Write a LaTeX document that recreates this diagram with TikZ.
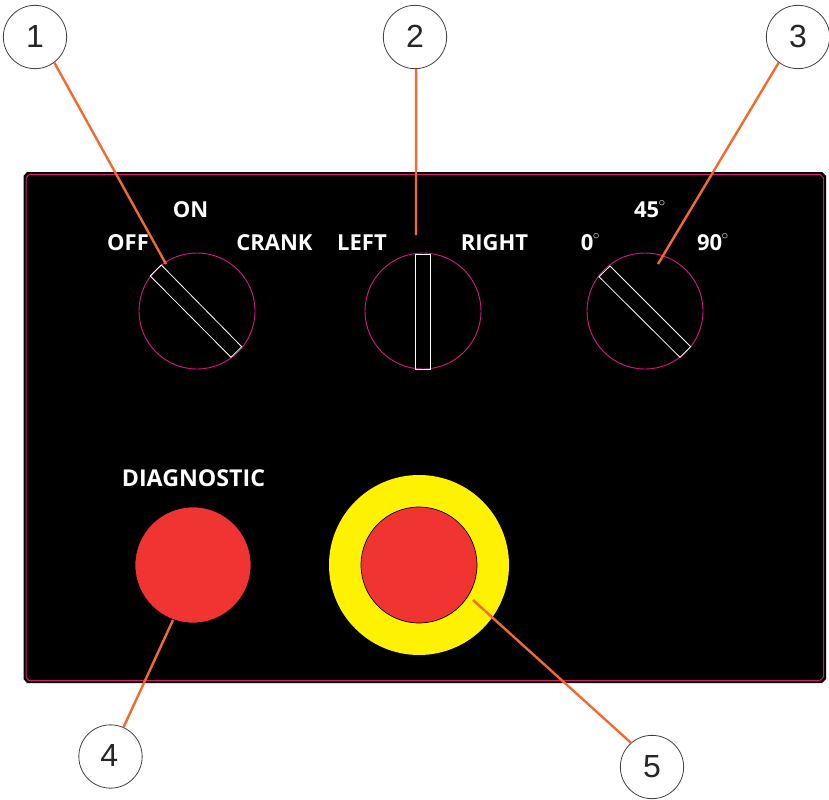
\documentclass[tikz,border=0pt]{standalone}
\usepackage{fontspec}
\setmainfont{Open Sans}
\newfontfamily\calloutfont{Liberation Sans}
\definecolor{leader}{HTML}{F26B2E}
\definecolor{rim}{HTML}{CE1A7C}
\definecolor{edge}{HTML}{D81B72}
\definecolor{stopred}{HTML}{F03432}
\definecolor{stopyellow}{HTML}{FFF200}
\tikzset{
  callout/.style={circle,draw=black!75,line width=0.6pt,fill=white,minimum size=47.5pt,inner sep=0pt,font=\calloutfont\fontsize{24}{24}\selectfont,text=black!85},
  knob/.style={circle,draw=rim,line width=0.7pt,minimum size=87pt,inner sep=0pt},
  redbutton/.style={circle,draw=black,line width=0.5pt,fill=stopred,minimum size=87pt,inner sep=0pt},
  ring/.style={circle,fill=stopyellow,minimum size=135pt,inner sep=0pt},
  slot/.style={draw=white,line width=0.6pt},
  lbl/.style={text=white,font=\fontsize{16.5}{18}\bfseries\selectfont,inner sep=0pt,anchor=center},
  leaderline/.style={draw=leader,line width=1.8pt}
}
\newcommand{\dg}{\raisebox{3pt}[0pt][0pt]{\kern-0.5pt\fontsize{14}{14}\selectfont$^{\circ}$}}
\newcommand{\up}[1]{\raisebox{1.2pt}{#1}}
\begin{document}
\begin{tikzpicture}[x=0.75pt,y=-0.75pt]
\useasboundingbox (0,0) rectangle (829,800);
% panel
\path[fill=black] (27,172) -- (822,172) -- (826,176) -- (826,679) -- (822,683) -- (27,683) -- (23.5,679) -- (23.5,176) -- cycle;
\draw[edge,line width=0.75pt] (29,174.5) -- (820,174.5) -- (823.5,178) -- (823.5,677) -- (820,680.5) -- (29,680.5) -- (26,677) -- (26,178) -- cycle;
% knobs
\node[knob] (k1) at (197,311) {};
\node[knob] (k2) at (423,311) {};
\node[knob] (k3) at (645,311) {};
\draw[slot] (161.3,265) -- (150.3,276) -- (231,357.3) -- (241.7,346.7) -- cycle;
\draw[slot] (415,254) rectangle (430.5,369);
\draw[slot] (610,266) -- (599,276.7) -- (680,357.3) -- (690.7,346.7) -- cycle;
% buttons
\node[redbutton] (b4) at (193,565) {};
\node[ring] (y5) at (419,565) {};
\node[redbutton] (b5) at (419,565) {};
% labels
\node[lbl] (on) at (190.5,210) {ON};
\node[lbl] (off) at (128,243) {OFF};
\node[lbl] (crank) at (274.5,243) {CRANK};
\node[lbl] (left) at (362,243) {LEFT};
\node[lbl] (right) at (494.5,243) {RIGHT};
\node[lbl] (zero) at (590.5,243) {0\dg};
\node[lbl] (ff) at (650,210) {45\dg};
\node[lbl] (nn) at (713,243) {90\dg};
\node[lbl,font=\fontsize{17.4}{18}\bfseries\selectfont] (diag) at (193.5,478) {DIAGNOSTIC};
% leader ends
\coordinate (e1) at (166,264);
\coordinate (e2) at (416,235);
\coordinate (e3) at (658,264);
\coordinate (e4) at (173,620);
\coordinate (e5) at (473,600);
% callouts
\node[callout] (c1) at (35,37) {\up{1}};
\node[callout] (c2) at (415,37) {\up{2}};
\node[callout] (c3) at (798,37) {\up{3}};
\node[callout] (c4) at (110.5,756.5) {\kern-2pt\up{4}};
\node[callout] (c5) at (652,767) {\up{5}};
\draw[leaderline] (c1.-53.5) -- (e1);
\draw[leaderline] (c2.-88) -- (e2);
\draw[leaderline] (c3.-127.6) -- (e3);
\draw[leaderline] (c4.66.6) -- (e4);
\draw[leaderline] (c5.131) -- (e5);
\end{tikzpicture}
\end{document}
